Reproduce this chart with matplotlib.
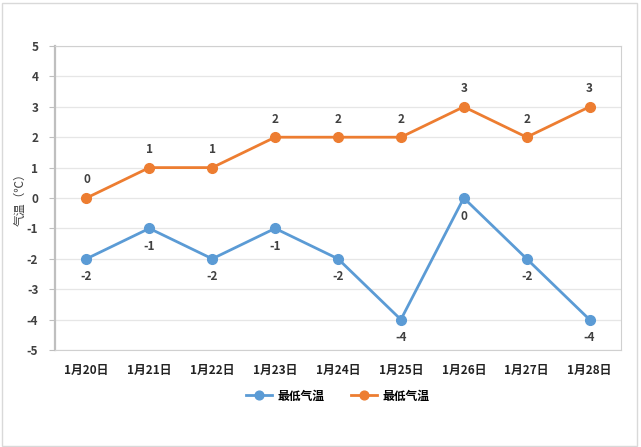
import numpy as np
import matplotlib
matplotlib.use("Agg")
import matplotlib.pyplot as plt
from matplotlib.patches import Rectangle

plt.rcParams['font.family'] = ['Noto Sans CJK SC', 'DejaVu Sans']

# DATA

dates = ["1月20日", "1月21日", "1月22日", "1月23日", "1月24日",
         "1月25日", "1月26日", "1月27日", "1月28日"]
low_a = [-2, -1, -2, -1, -2, -4, 0, -2, -4]
low_b = [0, 1, 1, 2, 2, 2, 3, 2, 3]
series_names = ["最低气温", "最低气温"]
yticks = [-5, -4, -3, -2, -1, 0, 1, 2, 3, 4, 5]

BLUE = "#5B9BD5"
ORANGE = "#ED7D31"
TXT = "#404040"

# PLOT

fig = plt.figure(figsize=(6.41, 4.47), dpi=100)
ax = fig.add_axes([55/641, 1-350/447, 566/641, 304/447])

x = np.arange(len(dates))
ax.plot(x, low_a, color=BLUE, lw=2, marker='o', ms=7, label=series_names[0], zorder=3)
ax.plot(x, low_b, color=ORANGE, lw=2, marker='o', ms=7, label=series_names[1], zorder=3)

for i in range(len(dates)):
    ax.annotate(str(low_a[i]), (x[i], low_a[i]), xytext=(0, -13), textcoords='offset points',
                ha='center', va='center', fontsize=8.5, fontweight='bold', color=TXT)
    ax.annotate(str(low_b[i]), (x[i], low_b[i]), xytext=(0, 13), textcoords='offset points',
                ha='center', va='center', fontsize=8.5, fontweight='bold', color=TXT)

ax.set_xlim(-0.5, len(dates)-0.5)
ax.set_ylim(-5, 5)
ax.set_yticks(yticks)
ax.set_yticklabels([str(v) for v in yticks], fontsize=8.5, fontweight='bold', color=TXT)
ax.set_xticks(x)
ax.set_xticklabels(dates, fontsize=8.5, fontweight='bold', color='#222222')
ax.tick_params(axis='x', length=0, pad=10)
ax.tick_params(axis='y', length=4, color='#BFBFBF', pad=8)
ax.grid(axis='y', color='#E6E6E6', lw=0.9)
ax.set_axisbelow(True)
for s in ['top', 'right', 'bottom']:
    ax.spines[s].set_color('#D0D0D0')
ax.spines['left'].set_color('#BFBFBF')
ax.spines['left'].set_linewidth(1.6)

fig.text(20/641, 1-197/447, "气温（℃）", rotation=90, ha='center', va='center',
         fontsize=8.5, color=TXT)

leg = ax.legend(loc='upper center', bbox_to_anchor=(0.5, -0.095), ncol=2, frameon=False,
                prop={'size': 8.5, 'weight': 'bold'}, handlelength=2.2, handletextpad=0.5,
                columnspacing=2.2, markerscale=0.9)

fig.patches.append(Rectangle((0.003, 0.003), 0.991, 0.99, transform=fig.transFigure,
                             fill=False, edgecolor='#D9D9D9', lw=1))

fig.savefig("out.png", dpi=100)
